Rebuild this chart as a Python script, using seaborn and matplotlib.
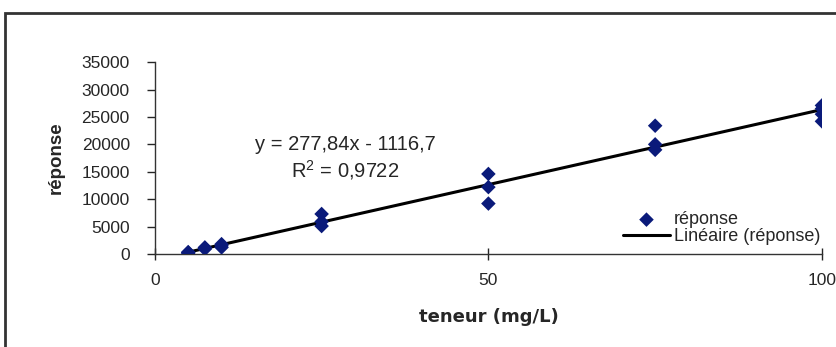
import seaborn as sns
import matplotlib.pyplot as plt
import matplotlib.patches as patches
import pandas as pd
import numpy as np

# values
teneur = [5, 5, 5, 7.5, 7.5, 7.5, 10, 10, 10, 25, 25, 25,
          50, 50, 50, 75, 75, 75, 100, 100, 100, 100]
reponse = [150, 250, 350, 900, 1100, 1200, 1200, 1500, 1800, 5100, 5900, 7300,
           9200, 12200, 14600, 19000, 20000, 23400, 24200, 25500, 26500, 27100]
eq_text = "y = 277,84x - 1116,7"
r2_text = "R$^2$ = 0,9722"
y_ticks = [0, 5000, 10000, 15000, 20000, 25000, 30000, 35000]
x_ticks = [0, 50, 100]

df = pd.DataFrame({"teneur": teneur, "réponse": reponse})

sns.set_style("ticks")
plt.rcParams["font.family"] = ["Liberation Sans", "DejaVu Sans"]
plt.rcParams["mathtext.fontset"] = "custom"
plt.rcParams["mathtext.rm"] = "Liberation Sans"

fig = plt.figure(figsize=(8.37, 3.47), dpi=100)
ax = fig.add_axes([0.185, 0.268, 0.797, 0.553])

sns.scatterplot(x="teneur", y="réponse", data=df, marker="D", color="#0a1a7a",
                s=55, edgecolor="none", ax=ax, label="réponse", zorder=3)
sns.regplot(x="teneur", y="réponse", data=df, scatter=False, ci=None,
            line_kws={"color": "black", "lw": 2.2}, ax=ax,
            label="Linéaire (réponse)")

ax.set_xlim(0, 100)
ax.set_ylim(0, 35000)
ax.set_xticks(x_ticks)
ax.set_yticks(y_ticks)
ax.tick_params(axis="x", direction="inout", length=8, width=1, labelsize=12.5, pad=10)
ax.tick_params(axis="y", direction="out", length=6, width=1, labelsize=12.5, pad=12)
for s in ["top", "right"]:
    ax.spines[s].set_visible(False)
for s in ["left", "bottom"]:
    ax.spines[s].set_color("#333333")
    ax.spines[s].set_linewidth(1)

ax.set_xlabel("teneur (mg/L)", fontsize=13, fontweight="bold", labelpad=14,
              family=["DejaVu Sans"])
ax.set_ylabel("réponse", fontsize=13.5, fontweight="bold", labelpad=12)

ax.text(28.5, 19900, eq_text, ha="center", va="center", fontsize=14.5)
ax.text(28.5, 15300, r2_text, ha="center", va="center", fontsize=14.5)

ax.legend(loc="lower right", bbox_to_anchor=(0.997, 0.045), frameon=False,
          fontsize=13, handlelength=2.6, handletextpad=0.2, labelspacing=0.0,
          borderpad=0.0, borderaxespad=0.0)

# chart area border as in the spreadsheet export
fig.patches.append(patches.Rectangle((5 / 837, -0.1), 1.2, 1.1 - 13 / 347,
                                     transform=fig.transFigure, fill=False,
                                     edgecolor="#333333", lw=2))

fig.savefig("out.png", dpi=100)
